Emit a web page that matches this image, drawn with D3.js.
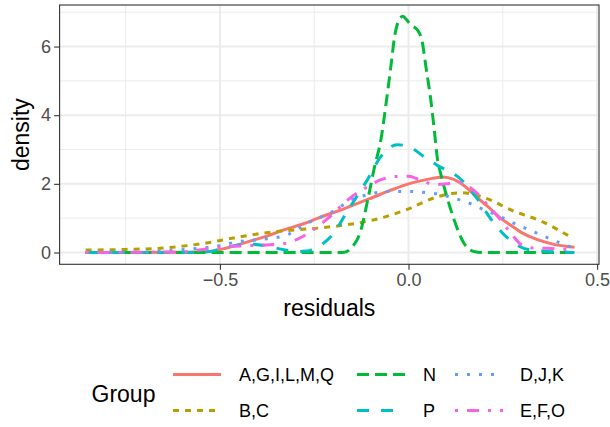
<!DOCTYPE html>
<html>
<head>
<meta charset="utf-8">
<script src="https://cdn.jsdelivr.net/npm/d3@7"></script>
<style>
  body { margin: 0; background: #fff; }
  text { font-family: "Liberation Sans", Arial, sans-serif; }
</style>
</head>
<body>
<div id="chart"></div>
<script>
// density curves, one x/y pair of arrays per group
const agilmq_x = [-0.856, -0.65, -0.56, -0.52, -0.48, -0.42, -0.37, -0.33, -0.28, -0.24, -0.17, -0.1, -0.05, 0, 0.05, 0.09, 0.12, 0.156, 0.18, 0.21, 0.244, 0.27, 0.3, 0.34, 0.38, 0.44];
const agilmq_y = [0, 0.005, 0.015, 0.04, 0.14, 0.33, 0.5, 0.66, 0.83, 1.0, 1.28, 1.58, 1.8, 2.0, 2.13, 2.2, 2.13, 1.87, 1.62, 1.34, 1.0, 0.8, 0.58, 0.38, 0.25, 0.15];

const bc_x = [-0.856, -0.75, -0.65, -0.54, -0.45, -0.36, -0.3, -0.24, -0.17, -0.1, -0.05, 0, 0.07, 0.14, 0.2, 0.28, 0.35, 0.43];
const bc_y = [0.07, 0.09, 0.13, 0.27, 0.45, 0.6, 0.66, 0.71, 0.8, 0.93, 1.08, 1.27, 1.6, 1.74, 1.6, 1.2, 0.92, 0.45];

const n_x = [-0.856, -0.2, -0.17, -0.152, -0.126, -0.108, -0.09, -0.073, -0.06, -0.047, -0.036, -0.025, -0.015, -0.005, 0.006, 0.024, 0.037, 0.046, 0.059, 0.068, 0.077, 0.085, 0.099, 0.121, 0.147, 0.173, 0.2, 0.44];
const n_y = [0, 0, 0.01, 0.13, 0.66, 1.54, 2.5, 3.3, 4.3, 5.4, 6.35, 6.78, 6.88, 6.78, 6.63, 6.48, 6.1, 5.42, 4.45, 3.6, 2.7, 2.31, 1.73, 0.95, 0.27, 0.03, 0, 0];

const p_x = [-0.856, -0.56, -0.52, -0.5, -0.46, -0.42, -0.38, -0.33, -0.3, -0.27, -0.24, -0.205, -0.16, -0.11, -0.073, -0.03, 0, 0.04, 0.075, 0.14, 0.18, 0.22, 0.26, 0.29, 0.32, 0.36, 0.4, 0.44];
const p_y = [0, 0, 0.04, 0.1, 0.2, 0.24, 0.2, 0.08, 0.03, 0.04, 0.17, 0.47, 1.24, 2.1, 2.8, 3.14, 3.09, 2.8, 2.55, 2.12, 1.6, 0.95, 0.45, 0.2, 0.08, 0.04, 0.01, 0];

const djk_x = [-0.856, -0.7, -0.62, -0.58, -0.5, -0.45, -0.4, -0.36, -0.32, -0.28, -0.24, -0.2, -0.15, -0.11, -0.05, 0, 0.05, 0.09, 0.12, 0.15, 0.18, 0.21, 0.24, 0.27, 0.33, 0.39, 0.44];
const djk_y = [0, 0.01, 0.07, 0.1, 0.2, 0.32, 0.37, 0.42, 0.52, 0.78, 1.0, 1.2, 1.54, 1.68, 1.78, 1.78, 1.74, 1.68, 1.58, 1.49, 1.34, 1.2, 1.06, 0.9, 0.61, 0.33, 0.12];

const efo_x = [-0.856, -0.6, -0.55, -0.48, -0.4, -0.33, -0.3, -0.266, -0.213, -0.16, -0.13, -0.108, -0.073, -0.038, 0, 0.02, 0.045, 0.07, 0.1, 0.13, 0.156, 0.182, 0.21, 0.24, 0.27, 0.3, 0.33, 0.37, 0.41, 0.44];
const efo_y = [0, 0.02, 0.08, 0.17, 0.21, 0.26, 0.36, 0.56, 1.0, 1.54, 1.78, 1.92, 2.12, 2.21, 2.22, 2.16, 2.05, 1.98, 2.0, 2.05, 1.95, 1.72, 1.38, 1.0, 0.58, 0.22, 0.13, 0.12, 0.09, 0.12];

const group_labels = ["A,G,I,L,M,Q", "B,C", "N", "P", "D,J,K", "E,F,O"];
const group_colors = ["#F8766D", "#B79F00", "#00BA38", "#00BFC4", "#619CFF", "#F564E3"];
const group_dashes = ["", "6,6", "12,6", "12,12", "3,9", "3,9,12,9"];
const group_xs = [agilmq_x, bc_x, n_x, p_x, djk_x, efo_x];
const group_ys = [agilmq_y, bc_y, n_y, p_y, djk_y, efo_y];

const x_ticks = [-0.5, 0, 0.5];
const x_minor = [-0.75, -0.25, 0.25];
const y_ticks = [0, 2, 4, 6];
const y_minor = [1, 3, 5, 7];

let svg_width = 610, svg_height = 427,
    panel = {left: 59.6, right: 599, top: 5, bottom: 264.3};

let x = d3.scaleLinear()
    .domain([-0.925, 0.505])
    .range([panel.left, panel.right]);
let y = d3.scaleLinear()
    .domain([-0.344, 7.21])
    .range([panel.bottom, panel.top]);

let svg = d3.select("#chart").append("svg")
    .attr("width", svg_width)
    .attr("height", svg_height);

svg.append("rect")
    .attr("width", svg_width)
    .attr("height", svg_height)
    .attr("fill", "#fff");

svg.append("clipPath").attr("id", "panelClip")
    .append("rect")
    .attr("x", panel.left)
    .attr("y", panel.top)
    .attr("width", panel.right - panel.left)
    .attr("height", panel.bottom - panel.top);

let grid = svg.append("g");
grid.selectAll(".xminor").data(x_minor).enter().append("line")
    .attr("x1", d => x(d)).attr("x2", d => x(d))
    .attr("y1", panel.top).attr("y2", panel.bottom)
    .attr("stroke", "#EBEBEB").attr("stroke-width", 1);
grid.selectAll(".yminor").data(y_minor).enter().append("line")
    .attr("y1", d => y(d)).attr("y2", d => y(d))
    .attr("x1", panel.left).attr("x2", panel.right)
    .attr("stroke", "#EBEBEB").attr("stroke-width", 1);
grid.selectAll(".xmajor").data(x_ticks).enter().append("line")
    .attr("x1", d => x(d)).attr("x2", d => x(d))
    .attr("y1", panel.top).attr("y2", panel.bottom)
    .attr("stroke", "#EBEBEB").attr("stroke-width", 2);
grid.selectAll(".ymajor").data(y_ticks).enter().append("line")
    .attr("y1", d => y(d)).attr("y2", d => y(d))
    .attr("x1", panel.left).attr("x2", panel.right)
    .attr("stroke", "#EBEBEB").attr("stroke-width", 2);

let line = d3.line()
    .x(d => x(d[0]))
    .y(d => y(d[1]))
    .curve(d3.curveMonotoneX);

let curves = svg.append("g").attr("clip-path", "url(#panelClip)");
group_labels.forEach((g, i) => {
    const pts = group_xs[i].map((v, j) => [v, group_ys[i][j]]);
    curves.append("path")
        .datum(pts)
        .attr("d", line)
        .attr("fill", "none")
        .attr("stroke", group_colors[i])
        .attr("stroke-width", 3)
        .attr("stroke-dasharray", group_dashes[i] || null);
});

svg.append("rect")
    .attr("x", panel.left)
    .attr("y", panel.top)
    .attr("width", panel.right - panel.left)
    .attr("height", panel.bottom - panel.top)
    .attr("fill", "none")
    .attr("stroke", "#333333")
    .attr("stroke-width", 1.1);

let fmt = d3.format(".1f");
let xAxis = svg.append("g")
    .attr("transform", "translate(0," + panel.bottom + ")")
    .call(d3.axisBottom(x).tickValues(x_ticks).tickFormat(fmt)
        .tickSize(5.5).tickPadding(3));
let yAxis = svg.append("g")
    .attr("transform", "translate(" + panel.left + ",0)")
    .call(d3.axisLeft(y).tickValues(y_ticks).tickFormat(d3.format("d"))
        .tickSize(5.5).tickPadding(3));
[xAxis, yAxis].forEach(a => {
    a.select(".domain").remove();
    a.selectAll(".tick line").attr("stroke", "#333333").attr("stroke-width", 1.1);
    a.selectAll(".tick text")
        .attr("fill", "#4D4D4D")
        .style("font-size", "18px")
        .style("font-family", "'Liberation Sans', Arial, sans-serif");
});

svg.append("text")
    .attr("text-anchor", "middle")
    .attr("x", (panel.left + panel.right) / 2)
    .attr("y", 316)
    .style("font-size", "23px")
    .text("residuals");

svg.append("text")
    .attr("text-anchor", "middle")
    .attr("transform", "translate(29," + (panel.top + panel.bottom) / 2 + ") rotate(-90)")
    .style("font-size", "23px")
    .text("density");

// legend: 3 columns x 2 rows, filled column by column
const key_x = [173, 357, 455];
const label_x = [239, 423, 520];
const row_y = [374.5, 410.5];

let legend = svg.append("g");
legend.append("text")
    .attr("x", 91.5)
    .attr("y", 393.5)
    .attr("dy", "0.35em")
    .style("font-size", "23px")
    .text("Group");

group_labels.forEach((g, i) => {
    const col = Math.floor(i / 2), row = i % 2;
    legend.append("line")
        .attr("x1", key_x[col]).attr("x2", key_x[col] + 48)
        .attr("y1", row_y[row]).attr("y2", row_y[row])
        .attr("stroke", group_colors[i])
        .attr("stroke-width", 3)
        .attr("stroke-dasharray", group_dashes[i] || null);
    legend.append("text")
        .attr("x", label_x[col])
        .attr("y", row_y[row] + 0.5)
        .attr("dy", "0.35em")
        .style("font-size", "18px")
        .text(g);
});
</script>
</body>
</html>
